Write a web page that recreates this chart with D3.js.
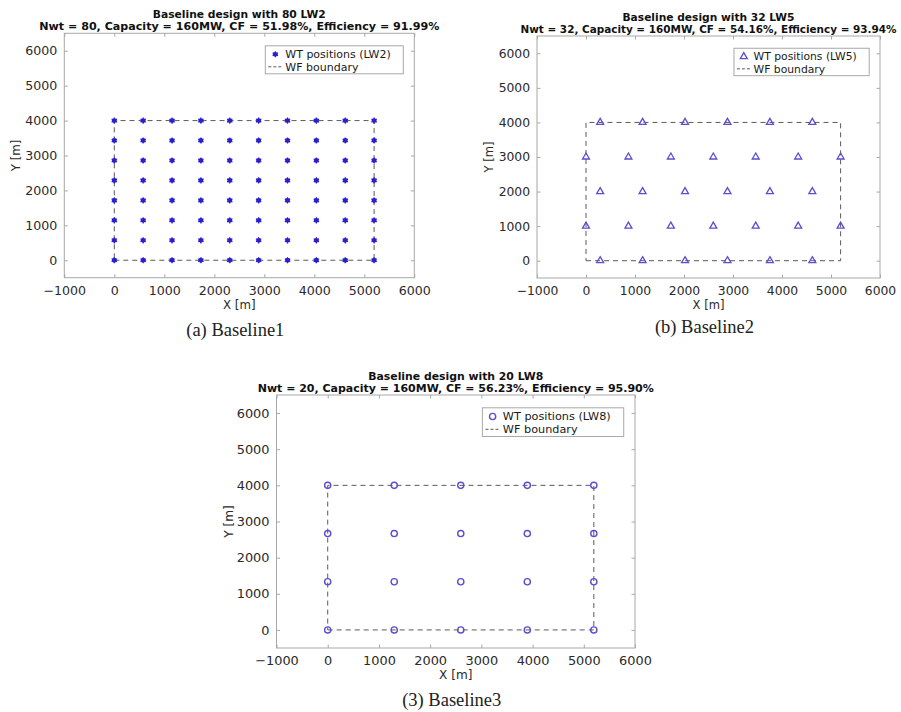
<!DOCTYPE html>
<html>
<head>
<meta charset="utf-8">
<script src="https://cdn.jsdelivr.net/npm/d3@7"></script>
<style>
  html, body { margin: 0; padding: 0; background: #fff; }
  svg { display: block; }
</style>
</head>
<body>
<svg id="fig" width="901" height="712"></svg>
<script>
// ---- Data -------------------------------------------------------------
// Baseline 1: 80 LW2 turbines on a regular 10 x 8 grid
const lw2Cols = [0, 577, 1155, 1732, 2309, 2887, 3464, 4041, 4619, 5196];
const lw2Rows = [0, 571, 1143, 1714, 2286, 2857, 3429, 4000];

// Baseline 2: 32 LW5 turbines, staggered rows
const lw5X = [
  289, 1155, 2021, 2887, 3753, 4619,
  0, 866, 1732, 2598, 3464, 4330, 5196,
  289, 1155, 2021, 2887, 3753, 4619,
  0, 866, 1732, 2598, 3464, 4330, 5196,
  289, 1155, 2021, 2887, 3753, 4619
];
const lw5Y = [
  0, 0, 0, 0, 0, 0,
  1000, 1000, 1000, 1000, 1000, 1000, 1000,
  2000, 2000, 2000, 2000, 2000, 2000,
  3000, 3000, 3000, 3000, 3000, 3000, 3000,
  4000, 4000, 4000, 4000, 4000, 4000
];

// Baseline 3: 20 LW8 turbines on a 5 x 4 grid
const lw8Cols = [0, 1299, 2598, 3897, 5196];
const lw8Rows = [0, 1333, 2667, 4000];

// Wind farm boundary (closed polygon)
const boundaryX = [0, 5196, 5196, 0, 0];
const boundaryY = [0, 0, 4000, 4000, 0];

const xTicks = [-1000, 0, 1000, 2000, 3000, 4000, 5000, 6000];
const yTicks = [0, 1000, 2000, 3000, 4000, 5000, 6000];
const xDomain = [-1000, 6000];
const yDomain = [-500, 6500];

const titles1 = ["Baseline design with 80 LW2", "Baseline design with 32 LW5", "Baseline design with 20 LW8"];
const titles2 = [
  "Nwt = 80, Capacity = 160MW, CF = 51.98%, Efficiency = 91.99%",
  "Nwt = 32, Capacity = 160MW, CF = 54.16%, Efficiency = 93.94%",
  "Nwt = 20, Capacity = 160MW, CF = 56.23%, Efficiency = 95.90%"
];
const legendLabels = ["WT positions (LW2)", "WT positions (LW5)", "WT positions (LW8)"];
const captions = ["(a) Baseline1", "(b) Baseline2", "(3) Baseline3"];

// ---- Build point sets --------------------------------------------------
const cross = (cols, rows) => rows.flatMap(y => cols.map(x => ({x, y})));
const pointsA = cross(lw2Cols, lw2Rows);
const pointsB = lw5X.map((x, i) => ({x, y: lw5Y[i]}));
const pointsC = cross(lw8Cols, lw8Rows);
const boundary = boundaryX.map((x, i) => ({x, y: boundaryY[i]}));

// ---- Layout -------------------------------------------------------------
const panels = [
  {box: {l: 64.3, r: 414.3, t: 33.3, b: 277.7}, pts: pointsA, marker: "star",
   color: "#2a1fcf", title1: titles1[0], title2: titles2[0], t2w: 400, t1w: 173,
   legend: legendLabels[0], caption: captions[0], capY: 336},
  {box: {l: 537, r: 880, t: 36, b: 278}, pts: pointsB, marker: "triangle",
   color: "#5a4fcf", title1: titles1[1], title2: titles2[1], t2w: 376, t1w: 172,
   legend: legendLabels[1], caption: captions[1], capY: 333},
  {box: {l: 276.5, r: 635, t: 395, b: 648}, pts: pointsC, marker: "circle",
   color: "#5a4fcf", title1: titles1[2], title2: titles2[2], t2w: 396, t1w: 175,
   legend: legendLabels[2], caption: captions[2], capY: 706}
];

const svg = d3.select("#fig");
const SANS = "'DejaVu Sans', Verdana, sans-serif";

function drawMarker(g, type, color, x, y) {
  if (type === "star") {
    g.append("path")
      .attr("d", d3.symbol(d3.symbolAsterisk, 26)())
      .attr("transform", `translate(${x},${y})`)
      .attr("stroke", color).attr("stroke-width", 1.2).attr("fill", "none");
    g.append("circle").attr("cx", x).attr("cy", y).attr("r", 2.4).attr("fill", color);
  } else if (type === "triangle") {
    g.append("path")
      .attr("d", d3.symbol(d3.symbolTriangle, 21)())
      .attr("transform", `translate(${x},${y})`)
      .attr("stroke", color).attr("stroke-width", 1.3).attr("fill", "none");
  } else {
    g.append("circle").attr("cx", x).attr("cy", y).attr("r", 3.1)
      .attr("stroke", color).attr("stroke-width", 1.4).attr("fill", "none");
  }
}

panels.forEach(p => {
  const {l, r, t, b} = p.box;
  const s = (r - l) / 350;
  const x = d3.scaleLinear().domain(xDomain).range([l, r]);
  const y = d3.scaleLinear().domain(yDomain).range([b, t]);
  const g = svg.append("g");

  // Axes box
  g.append("rect").attr("x", l).attr("y", t).attr("width", r - l).attr("height", b - t)
    .attr("fill", "#fff").attr("stroke", "#a8a8a8").attr("stroke-width", 1);

  // Inward ticks on all four sides
  const tickLen = 3.5;
  const axB = d3.axisBottom(x).tickValues(xTicks).tickSize(-tickLen).tickFormat(d3.format("d")).tickPadding(8);
  const axT = d3.axisTop(x).tickValues(xTicks).tickSize(-tickLen).tickFormat("");
  const axL = d3.axisLeft(y).tickValues(yTicks).tickSize(-tickLen).tickFormat(d3.format("d")).tickPadding(7);
  const axR = d3.axisRight(y).tickValues(yTicks).tickSize(-tickLen).tickFormat("");
  const fs = 12.6 * s;
  [[axB, `translate(0,${b})`], [axT, `translate(0,${t})`], [axL, `translate(${l},0)`], [axR, `translate(${r},0)`]]
    .forEach(([ax, tr]) => {
      const a = g.append("g").attr("transform", tr).call(ax);
      a.select(".domain").remove();
      a.selectAll(".tick line").attr("stroke", "#a8a8a8");
      a.selectAll(".tick text").attr("fill", "#2a2a2a").attr("font-family", SANS).attr("font-size", fs);
    });

  // Boundary
  g.append("path").datum(boundary)
    .attr("d", d3.line().x(d => x(d.x)).y(d => y(d.y)))
    .attr("fill", "none").attr("stroke", "#5a5a5a").attr("stroke-width", 1)
    .attr("stroke-dasharray", "5,4");

  // Turbines
  const mg = g.append("g");
  p.pts.forEach(d => drawMarker(mg, p.marker, p.color, x(d.x), y(d.y)));

  // Titles
  const cx = (l + r) / 2;
  g.append("text").attr("x", cx).attr("y", t - 15.5).attr("text-anchor", "middle")
    .attr("font-family", SANS).attr("font-weight", "bold").attr("font-size", 10.5 * s)
    .attr("fill", "#111").attr("textLength", p.t1w).attr("lengthAdjust", "spacingAndGlyphs")
    .text(p.title1);
  g.append("text").attr("x", cx).attr("y", t - 3.5).attr("text-anchor", "middle")
    .attr("font-family", SANS).attr("font-weight", "bold").attr("font-size", 10.5 * s)
    .attr("fill", "#111").attr("textLength", p.t2w).attr("lengthAdjust", "spacingAndGlyphs")
    .text(p.title2);

  // Axis labels
  g.append("text").attr("x", x(2500)).attr("y", b + 31).attr("text-anchor", "middle")
    .attr("font-family", SANS).attr("font-size", 11.8 * s).attr("fill", "#2a2a2a").text("X [m]");
  g.append("text").attr("transform", `translate(${l - 44},${y(3000)}) rotate(-90)`)
    .attr("text-anchor", "middle").attr("font-family", SANS).attr("font-size", 11.8 * s)
    .attr("fill", "#2a2a2a").text("Y [m]");

  // Legend
  const lw = 138 * s, lh = 28 * s;
  const lx = r - 11 * s - lw, ly = t + 12.5 * s;
  const lg = g.append("g");
  lg.append("rect").attr("x", lx).attr("y", ly).attr("width", lw).attr("height", lh)
    .attr("fill", "#fff").attr("stroke", "#a8a8a8").attr("stroke-width", 1);
  drawMarker(lg, p.marker, p.color, lx + 10 * s, ly + 8.5 * s);
  lg.append("text").attr("x", lx + 20 * s).attr("y", ly + 8.5 * s).attr("dy", "0.35em")
    .attr("font-family", SANS).attr("font-size", 11 * s).attr("fill", "#1a1a1a").text(p.legend);
  lg.append("line").attr("x1", lx + 3 * s).attr("x2", lx + 17 * s)
    .attr("y1", ly + 21 * s).attr("y2", ly + 21 * s)
    .attr("stroke", "#5a5a5a").attr("stroke-dasharray", "3,2");
  lg.append("text").attr("x", lx + 20 * s).attr("y", ly + 21 * s).attr("dy", "0.35em")
    .attr("font-family", SANS).attr("font-size", 11 * s).attr("fill", "#1a1a1a").text("WF boundary");

  // Caption
  g.append("text").attr("x", cx - 4).attr("y", p.capY).attr("text-anchor", "middle")
    .attr("font-family", "'Liberation Serif', 'Times New Roman', serif").attr("font-size", 18.5)
    .attr("fill", "#222").text(p.caption);
});
</script>
</body>
</html>
